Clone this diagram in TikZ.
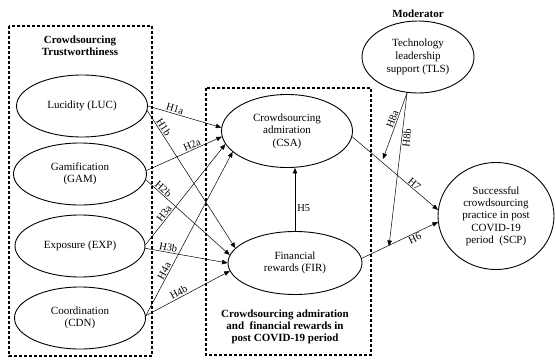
\documentclass[tikz,border=0pt]{standalone}
\usepackage{fontspec}
\setmainfont{Liberation Serif}
\usetikzlibrary{arrows.meta,shapes.geometric}
\tikzset{
    construct/.style={
        ellipse, draw, line width=0.9pt, inner sep=0pt, align=center,
        font=\fontsize{11}{12.5}\selectfont
    },
    hpath/.style={-{Triangle[length=5.5pt,width=4.5pt]}, line width=0.5pt},
    hlabel/.style={sloped, inner sep=1pt, font=\fontsize{10.5}{12}\selectfont},
    group/.style={line width=1.1pt, dash pattern=on 3pt off 2pt},
    heading/.style={align=center, font=\bfseries\fontsize{11}{12}\selectfont}
}

\begin{document}
\begin{tikzpicture}[x=1pt,y=-1pt]
\useasboundingbox (0,0) rectangle (556,361);

% Riquadri tratteggiati
\draw[group] (9,26) rectangle (152,356);
\draw[group] (206,88) rectangle (371,355);

% Titoli
\node[heading] (trust) at (80,46) {Crowdsourcing\\Trustworthiness};
\node[heading] (mediators) at (285,327) {Crowdsourcing admiration\\and~ financial rewards in\\post COVID-19 period};
\node[heading] (moderator) at (418,14) {Moderator};

% Costrutti
\node[construct, minimum width=131pt, minimum height=62pt] (LUC) at (82,106) {Lucidity (LUC)};
\node[construct, minimum width=133pt, minimum height=62pt] (GAM) at (80,174) {Gamification\\(GAM)};
\node[construct, minimum width=130pt, minimum height=62pt] (EXP) at (80,246) {Exposure (EXP)};
\node[construct, minimum width=131pt, minimum height=62pt] (CDN) at (80,318) {Coordination\\(CDN)};
\node[construct, minimum width=131pt, minimum height=73pt] (CSA) at (287,131) {Crowdsourcing\\admiration\\(CSA)};
\node[construct, minimum width=134pt, minimum height=63pt] (FIR) at (295,263) {Financial\\rewards (FIR)};
\node[construct, minimum width=112pt, minimum height=72pt,
      font=\fontsize{11}{13}\selectfont] (TLS) at (418,57) {Technology\\leadership\\support (TLS)};
\node[construct, minimum width=116pt, minimum height=107pt,
      font=\fontsize{11}{12.3}\selectfont] (SCP) at (496,216) {Successful\\crowdsourcing\\practice in post\\COVID-19\\period~ (SCP)};

% Ipotesi H1--H4
\draw[hpath] (LUC.east) -- node[hlabel, above, pos=0.35] {H1a} (CSA.177);
\draw[hpath] (LUC.-4) -- node[hlabel, above, pos=0.14] {H1b} (FIR.166);
\draw[hpath] (GAM.3) -- node[hlabel, above, pos=0.63] {H2a} (CSA.185);
\draw[hpath] (GAM.-5) -- node[hlabel, above, pos=0.17] {H2b} (FIR.173);
\draw[hpath] (EXP.1) -- node[hlabel, above, pos=0.28] {H3a} (CSA.192);
\draw[hpath] (EXP.-2) -- node[hlabel, above, pos=0.27] {H3b} (FIR.180);
\draw[hpath] (CDN.2) -- node[hlabel, above, pos=0.26] {H4a} (CSA.201);
\draw[hpath] (CDN.2) -- node[hlabel, above, pos=0.42] {H4b} (FIR.187);

% Ipotesi H5--H7
\draw[hpath] (FIR.north) -- node[right, pos=0.37, inner sep=2pt, font=\fontsize{10.5}{12}\selectfont] {H5} (CSA.south -| FIR.north);
\draw[hpath] (FIR.4) -- node[hlabel, below, pos=0.67] {H6} (SCP.186);
\draw[hpath] (CSA.-5) -- node[hlabel, above, pos=0.69] {H7} (SCP.174);

% Moderazione
\coordinate (onH7) at (383,159);
\coordinate (onH6) at (389,246);
\draw[hpath] (TLS.-107) -- node[hlabel, above, pos=0.42] {H8a} (onH7);
\draw[hpath] (TLS.-107) -- node[hlabel, below, pos=0.29] {H8b} (onH6);

\end{tikzpicture}
\end{document}
